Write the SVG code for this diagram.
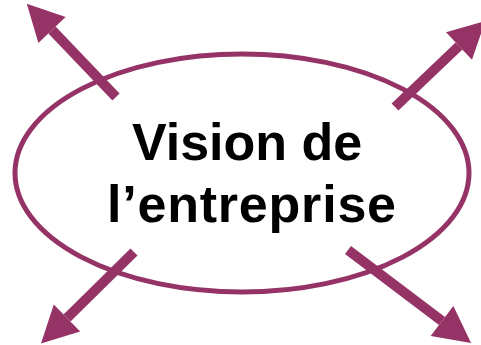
<svg xmlns="http://www.w3.org/2000/svg" width="481" height="345" viewBox="0 0 481 345">
<style>
.shaft{stroke:#953366;stroke-width:10;fill:none;stroke-linecap:butt}
.ring{fill:none;stroke:#953366;stroke-width:5}
.lbl{font-family:"Liberation Sans",Arial,sans-serif;font-weight:bold;font-size:52px;fill:#000}
</style>
<defs>
<marker id="head" markerUnits="userSpaceOnUse" markerWidth="40" markerHeight="40" viewBox="0 -17 32 34" refX="0" refY="0" orient="auto">
<path d="M0,-16 L31,0 L0,16 z" fill="#953366"/>
</marker>
</defs>
<g id="vision">
<ellipse class="ring" cx="242" cy="173" rx="227" ry="119"/>
<text class="lbl" x="132" y="160">Vision de</text>
<text class="lbl" x="107" y="222" textLength="289" lengthAdjust="spacing">l’entreprise</text>
</g>
<g id="connectors">
<line class="shaft" x1="116" y1="97" x2="52" y2="30" marker-end="url(#head)"/>
<line class="shaft" x1="395" y1="107" x2="459" y2="46" marker-end="url(#head)"/>
<line class="shaft" x1="134" y1="252" x2="67" y2="318" marker-end="url(#head)"/>
<line class="shaft" x1="348" y1="250" x2="442" y2="321" marker-end="url(#head)"/>
</g>
</svg>
